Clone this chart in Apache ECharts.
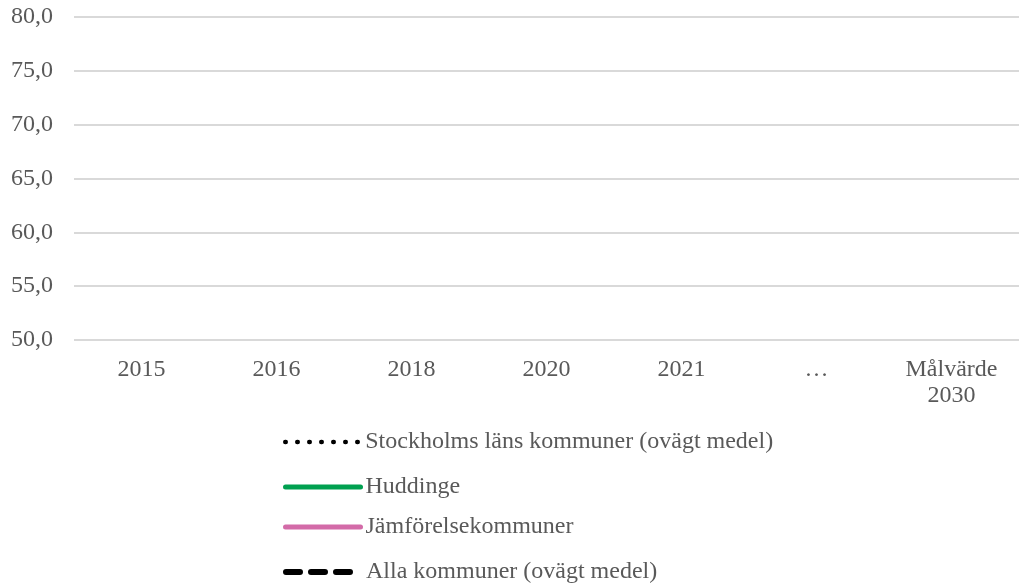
<!DOCTYPE html>
<html>
<head>
<meta charset="utf-8">
<script src="https://cdn.jsdelivr.net/npm/echarts@6/dist/echarts.min.js"></script>
<style>
  html, body { margin: 0; padding: 0; background: #fff; }
  #chart-container { width: 1019px; height: 585px; }
</style>
</head>
<body>
<div id="chart-container"></div>
<script>
var dom = document.getElementById('chart-container');
var myChart = echarts.init(dom, null, { renderer: 'canvas' });

// kategorier och serier (inga värden finns i diagrammet)
var categories = ['2015', '2016', '2018', '2020', '2021', '…', 'Målvärde\n2030'];
var seriesNames = [
  'Stockholms läns kommuner (ovägt medel)',
  'Huddinge',
  'Jämförelsekommuner',
  'Alla kommuner (ovägt medel)'
];
var stockholmsLan = [null, null, null, null, null, null, null];
var huddinge = [null, null, null, null, null, null, null];
var jamforelse = [null, null, null, null, null, null, null];
var allaKommuner = [null, null, null, null, null, null, null];

var font = 'Liberation Serif';
var textColor = '#595959';

var lineStyles = [
  { color: '#000', width: 4.5, type: [0.5, 11.5], cap: 'round' },
  { color: '#00a050', width: 5, type: 'solid', cap: 'round' },
  { color: '#d36ba8', width: 5, type: 'solid', cap: 'round' },
  { color: '#000', width: 6, type: [14, 11], cap: 'round' }
];
var legendTops = [430, 475, 515, 560];

var legends = seriesNames.map(function (name, i) {
  return {
    orient: 'vertical',
    left: 283,
    top: legendTops[i],
    padding: 0,
    itemWidth: 75,
    itemHeight: 14,
    itemGap: 8,
    textStyle: { fontFamily: font, fontSize: 24, color: textColor },
    data: [{ name: name, itemStyle: { opacity: 0 }, lineStyle: lineStyles[i] }]
  };
});

var option = {
  animation: false,
  textStyle: { fontFamily: font },
  grid: { left: 74, right: 0, top: 17, bottom: 245 },
  legend: legends,
  xAxis: {
    type: 'category',
    data: categories,
    axisLine: { show: false },
    axisTick: { show: false },
    axisLabel: { fontFamily: font, fontSize: 24, color: textColor, margin: 17, lineHeight: 26 }
  },
  yAxis: {
    type: 'value',
    min: 50,
    max: 80,
    interval: 5,
    axisLabel: {
      fontFamily: font, fontSize: 24, color: textColor, margin: 21,
      formatter: function (v) { return v.toFixed(1).replace('.', ','); }
    },
    splitLine: { lineStyle: { color: '#d9d9d9', width: 2 } }
  },
  series: [
    { name: seriesNames[0], type: 'line', symbol: 'none', data: stockholmsLan,
      itemStyle: { color: '#000' }, lineStyle: lineStyles[0] },
    { name: seriesNames[1], type: 'line', symbol: 'none', data: huddinge,
      itemStyle: { color: '#00a050' }, lineStyle: lineStyles[1] },
    { name: seriesNames[2], type: 'line', symbol: 'none', data: jamforelse,
      itemStyle: { color: '#d36ba8' }, lineStyle: lineStyles[2] },
    { name: seriesNames[3], type: 'line', symbol: 'none', data: allaKommuner,
      itemStyle: { color: '#000' }, lineStyle: lineStyles[3] }
  ]
};

myChart.setOption(option);
window.addEventListener('resize', myChart.resize);
</script>
</body>
</html>
